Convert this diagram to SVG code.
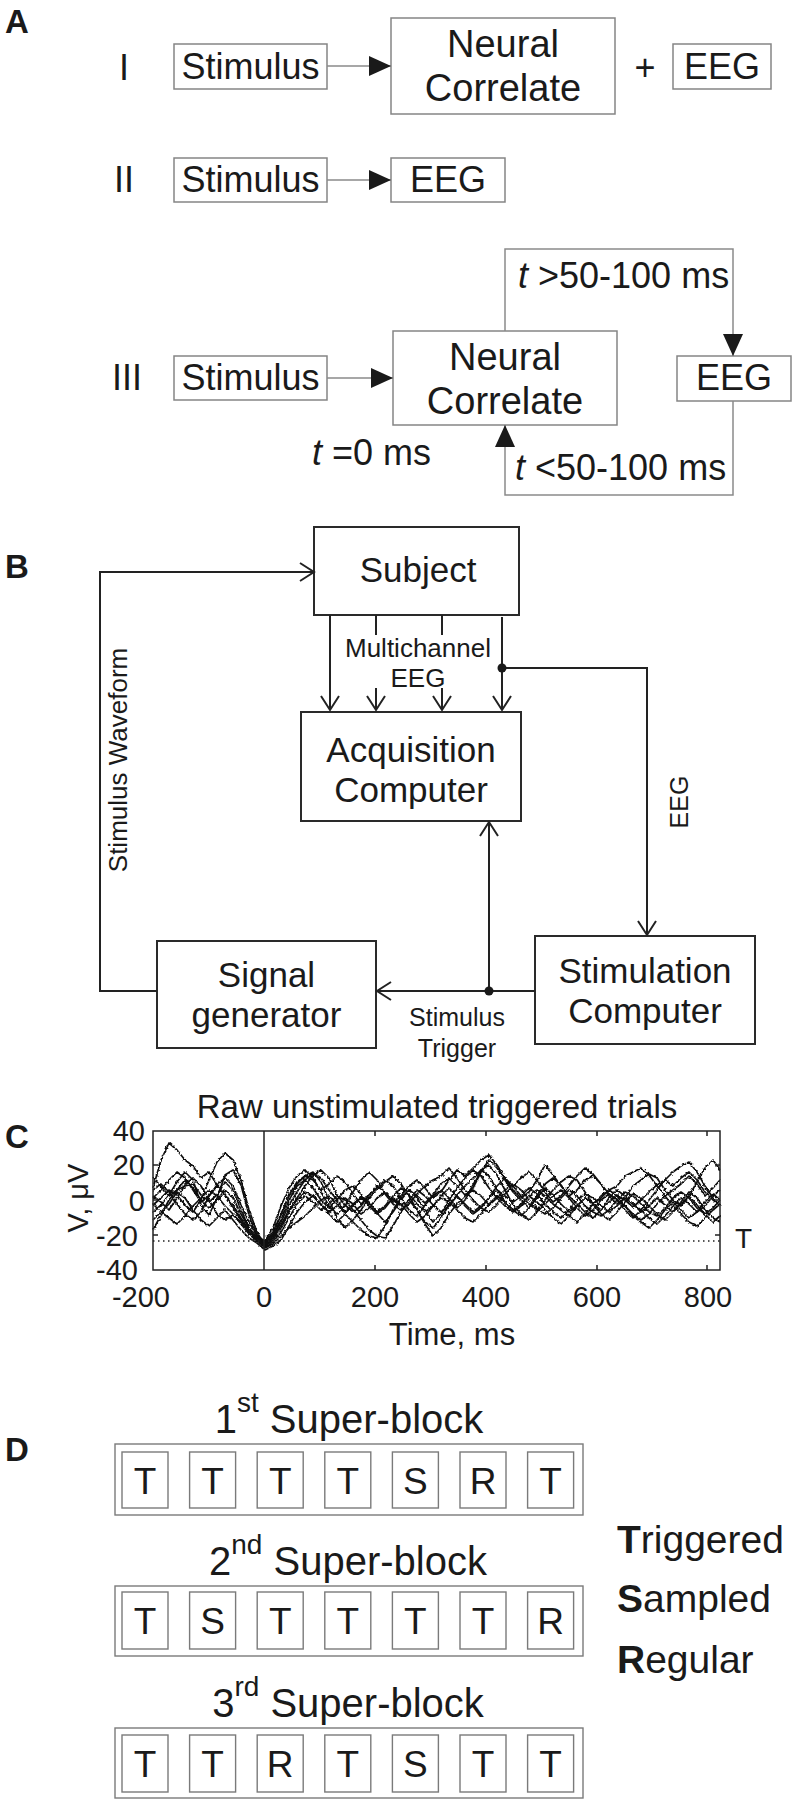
<svg xmlns="http://www.w3.org/2000/svg" width="794" height="1800" viewBox="0 0 794 1800">
<style>
text{font-family:"Liberation Sans",Arial,Helvetica,sans-serif;fill:#1a1a1a}
.lbl{font-weight:bold;font-size:33px}
.a36{font-size:36px;text-anchor:middle}
.nc{font-size:38px;text-anchor:middle}
.c{text-anchor:middle}
.boxA{fill:#fff;stroke:#858585;stroke-width:1.5}
.lineA{fill:none;stroke:#8a8a8a;stroke-width:1.5}
.boxB{fill:#fff;stroke:#2a2a2a;stroke-width:2}
.lineB{fill:none;stroke:#222;stroke-width:2}
.b35{font-size:35px;text-anchor:middle}
.boxD{fill:#fff;stroke:#7a7a7a;stroke-width:1.4}
.lt{font-size:37px;text-anchor:middle}
.tr{fill:none;stroke:#111;stroke-width:1.7;stroke-linejoin:round}
.ax{fill:none;stroke:#222;stroke-width:1.5}
.tk{font-size:29px}
</style>
<defs>
<marker id="tri" markerUnits="userSpaceOnUse" markerWidth="23" markerHeight="20" refX="22" refY="10" orient="auto" viewBox="0 0 23 20"><path d="M0,0 L22,10 L0,20 z" fill="#1a1a1a"/></marker>
<marker id="chev" markerUnits="userSpaceOnUse" markerWidth="18" markerHeight="20" refX="15" refY="10" orient="auto" viewBox="0 0 18 20" overflow="visible"><path d="M1,1 L15,10 L1,19" fill="none" stroke="#222" stroke-width="2"/></marker>
<filter id="jit" x="-5%" y="-20%" width="110%" height="140%"><feTurbulence type="fractalNoise" baseFrequency="0.4" numOctaves="1" seed="7"/><feDisplacementMap in="SourceGraphic" scale="3.5" xChannelSelector="R" yChannelSelector="G"/></filter>
</defs>
<rect width="794" height="1800" fill="#fff"/>

<!-- Panel labels -->
<text class="lbl" x="5" y="33">A</text>
<text class="lbl" x="5" y="578">B</text>
<text class="lbl" x="5" y="1148">C</text>
<text class="lbl" x="5" y="1461">D</text>

<!-- Panel A -->
<text class="a36" x="124" y="80">I</text>
<text class="a36" x="124" y="192">II</text>
<text class="a36" x="127" y="390">III</text>

<g id="a1-stimulus"><rect class="boxA" x="174" y="44" width="153" height="45"/><text class="a36" x="250.5" y="79">Stimulus</text></g>
<g id="a1-neural"><rect class="boxA" x="391" y="18" width="224" height="96"/><text class="nc" x="503" y="57">Neural</text><text class="nc" x="503" y="101">Correlate</text></g>
<text class="a36" x="645" y="80">+</text>
<g id="a1-eeg"><rect class="boxA" x="673" y="44" width="98" height="45"/><text class="a36" x="722" y="79">EEG</text></g>

<g id="a2-stimulus"><rect class="boxA" x="174" y="158" width="153" height="44"/><text class="a36" x="250.5" y="192">Stimulus</text></g>
<g id="a2-eeg"><rect class="boxA" x="391" y="158" width="114" height="44"/><text class="a36" x="448" y="192">EEG</text></g>

<g id="a3-stimulus"><rect class="boxA" x="174" y="356" width="153" height="44"/><text class="a36" x="250.5" y="390">Stimulus</text></g>
<g id="a3-neural"><rect class="boxA" x="393" y="331" width="224" height="94"/><text class="nc" x="505" y="370">Neural</text><text class="nc" x="505" y="414">Correlate</text></g>
<g id="a3-eeg"><rect class="boxA" x="677" y="356" width="114" height="45"/><text class="a36" x="734" y="390">EEG</text></g>

<text font-size="36" x="518" y="288"><tspan font-style="italic">t</tspan> &gt;50-100 ms</text>
<text font-size="36" x="312" y="465"><tspan font-style="italic">t</tspan> =0 ms</text>
<text font-size="36" x="515" y="480"><tspan font-style="italic">t</tspan> &lt;50-100 ms</text>

<!-- Panel B nodes -->
<g id="b-subject"><rect class="boxB" x="314" y="527" width="205" height="88"/><text class="b35" x="418" y="582">Subject</text></g>
<g id="b-acquisition"><rect class="boxB" x="301" y="712" width="220" height="109"/><text class="b35" x="411" y="762">Acquisition</text><text class="b35" x="411" y="802">Computer</text></g>
<g id="b-signal"><rect class="boxB" x="157" y="941" width="219" height="107"/><text class="b35" x="266.5" y="987">Signal</text><text class="b35" x="266.5" y="1027">generator</text></g>
<g id="b-stimulation"><rect class="boxB" x="535" y="936" width="220" height="108"/><text class="b35" x="645" y="983">Stimulation</text><text class="b35" x="645" y="1023">Computer</text></g>

<text class="c" font-size="26" x="418" y="657">Multichannel</text>
<text class="c" font-size="26" x="418" y="687">EEG</text>
<text class="c" font-size="25" x="457" y="1026">Stimulus</text>
<text class="c" font-size="25" x="457" y="1057">Trigger</text>
<text class="c" font-size="26" transform="translate(127,760) rotate(-90)">Stimulus Waveform</text>
<text class="c" font-size="25" transform="translate(688,802) rotate(-90)">EEG</text>

<!-- Connectors -->
<g id="connectors">
<path class="lineA" d="M327,66 H391" marker-end="url(#tri)"/>
<path class="lineA" d="M327,180 H391" marker-end="url(#tri)"/>
<path class="lineA" d="M327,378 H393" marker-end="url(#tri)"/>
<path class="lineA" d="M505,331 V249 H733 V356" marker-end="url(#tri)"/>
<path class="lineA" d="M733,401 V495 H505 V425" marker-end="url(#tri)"/>

<path class="lineB" d="M157,991 H100 V572 H314" marker-end="url(#chev)"/>
<path class="lineB" d="M330,615 V710" marker-end="url(#chev)"/>
<path class="lineB" d="M376,615 V635"/>
<path class="lineB" d="M376,688 V710" marker-end="url(#chev)"/>
<path class="lineB" d="M442,615 V635"/>
<path class="lineB" d="M442,688 V710" marker-end="url(#chev)"/>
<path class="lineB" d="M502,617 V710" marker-end="url(#chev)"/>
<path class="lineB" d="M502,668 H647 V935" marker-end="url(#chev)"/>
<path class="lineB" d="M535,991 H377" marker-end="url(#chev)"/>
<path class="lineB" d="M489,991 V822" marker-end="url(#chev)"/>
<circle cx="502" cy="668" r="4.5" fill="#1a1a1a"/>
<circle cx="489" cy="991" r="4.5" fill="#1a1a1a"/>
</g>

<!-- Panel C plot -->
<g id="panelC-plot">
<text class="c" font-size="33" x="437" y="1118">Raw unstimulated triggered trials</text>
<g filter="url(#jit)">
<polyline class="tr" points="153,1188 161,1160 169,1143 177,1150 185,1160 193,1166 201,1178 209,1172 217,1185 225,1196 233,1205 241,1218 249,1230 257,1238 265,1244 273,1236 281,1222 289,1205 297,1192 305,1180 313,1173 321,1178 329,1190 337,1200 345,1212 353,1206 361,1196 369,1202 377,1213 385,1222 393,1212 401,1200 409,1190 417,1196 425,1203 433,1195 441,1184 449,1178 457,1186 465,1195 473,1188 481,1172 489,1160 497,1168 505,1180 513,1192 521,1200 529,1208 537,1198 545,1188 553,1195 561,1204 569,1212 577,1206 585,1198 593,1204 601,1210 609,1202 617,1195 625,1200 633,1207 641,1200 649,1192 657,1185 665,1180 673,1186 681,1178 689,1172 697,1180 705,1192 713,1200 720,1205"/>
<polyline class="tr" points="153,1205 161,1198 169,1190 177,1195 185,1205 193,1212 201,1200 209,1180 217,1162 225,1153 233,1160 241,1180 249,1210 257,1232 265,1246 273,1240 281,1228 289,1212 297,1198 305,1186 313,1175 321,1170 329,1178 337,1195 345,1205 353,1212 361,1206 369,1195 377,1188 385,1180 393,1186 401,1198 409,1210 417,1216 425,1205 433,1196 441,1190 449,1198 457,1208 465,1200 473,1185 481,1170 489,1176 497,1190 505,1202 513,1210 521,1216 529,1208 537,1196 545,1184 553,1178 561,1185 569,1196 577,1204 585,1212 593,1218 601,1210 609,1198 617,1190 625,1196 633,1204 641,1212 649,1206 657,1198 665,1205 673,1212 681,1204 689,1196 697,1205 705,1214 713,1208 720,1200"/>
<polyline class="tr" points="153,1212 161,1205 169,1195 177,1182 185,1172 193,1180 201,1205 209,1215 217,1198 225,1175 233,1170 241,1185 249,1215 257,1235 265,1242 273,1232 281,1214 289,1196 297,1184 305,1176 313,1172 321,1182 329,1200 337,1218 345,1228 353,1220 361,1210 369,1198 377,1190 385,1182 393,1176 401,1184 409,1196 417,1210 425,1222 433,1228 441,1218 449,1205 457,1195 465,1186 473,1178 481,1170 489,1165 497,1175 505,1190 513,1205 521,1214 529,1220 537,1212 545,1200 553,1190 561,1182 569,1176 577,1180 585,1192 593,1204 601,1214 609,1220 617,1212 625,1202 633,1194 641,1198 649,1206 657,1214 665,1220 673,1212 681,1202 689,1192 697,1198 705,1210 713,1218 720,1222"/>
<polyline class="tr" points="153,1230 161,1215 169,1200 177,1190 185,1186 193,1184 201,1195 209,1202 217,1195 225,1182 233,1190 241,1210 249,1228 257,1240 265,1248 273,1244 281,1236 289,1228 297,1222 305,1216 313,1208 321,1200 329,1196 337,1204 345,1214 353,1222 361,1230 369,1236 377,1238 385,1226 393,1210 401,1198 409,1190 417,1198 425,1210 433,1222 441,1214 449,1200 457,1188 465,1178 473,1170 481,1176 489,1188 497,1198 505,1206 513,1212 521,1206 529,1196 537,1190 545,1196 553,1204 561,1210 569,1216 577,1222 585,1214 593,1204 601,1196 609,1190 617,1186 625,1176 633,1172 641,1168 649,1175 657,1186 665,1196 673,1206 681,1214 689,1222 697,1226 705,1218 713,1210 720,1204"/>
<polyline class="tr" points="153,1196 161,1202 169,1210 177,1198 185,1185 193,1178 201,1186 209,1200 217,1214 225,1220 233,1215 241,1222 249,1232 257,1240 265,1245 273,1238 281,1225 289,1210 297,1200 305,1192 313,1196 321,1205 329,1212 337,1206 345,1198 353,1204 361,1214 369,1208 377,1198 385,1192 393,1200 401,1206 409,1200 417,1190 425,1196 433,1205 441,1212 449,1206 457,1196 465,1204 473,1212 481,1206 489,1198 497,1190 505,1196 513,1202 521,1196 529,1188 537,1194 545,1204 553,1212 561,1218 569,1210 577,1200 585,1194 593,1198 601,1206 609,1212 617,1206 625,1198 633,1204 641,1210 649,1218 657,1224 665,1216 673,1206 681,1198 689,1204 697,1212 705,1206 713,1196 720,1190"/>
<polyline class="tr" points="153,1190 161,1184 169,1192 177,1204 185,1214 193,1220 201,1212 209,1196 217,1185 225,1178 233,1186 241,1205 249,1222 257,1236 265,1243 273,1234 281,1215 289,1195 297,1182 305,1176 313,1180 321,1190 329,1184 337,1176 345,1182 353,1194 361,1204 369,1196 377,1186 385,1192 393,1202 401,1196 409,1186 417,1180 425,1188 433,1198 441,1192 449,1180 457,1170 465,1176 473,1168 481,1160 489,1155 497,1165 505,1178 513,1190 521,1198 529,1192 537,1180 545,1165 553,1175 561,1186 569,1196 577,1190 585,1180 593,1176 601,1184 609,1196 617,1204 625,1198 633,1186 641,1180 649,1174 657,1178 665,1190 673,1200 681,1206 689,1196 697,1182 705,1168 713,1160 720,1170"/>
<polyline class="tr" points="153,1220 161,1212 169,1218 177,1224 185,1216 193,1206 201,1198 209,1190 217,1196 225,1206 233,1214 241,1224 249,1234 257,1241 265,1247 273,1242 281,1232 289,1218 297,1204 305,1196 313,1202 321,1210 329,1204 337,1196 345,1200 353,1210 361,1220 369,1230 377,1236 385,1238 393,1226 401,1212 409,1200 417,1210 425,1224 433,1236 441,1228 449,1214 457,1204 465,1196 473,1190 481,1196 489,1205 497,1198 505,1190 513,1184 521,1190 529,1200 537,1208 545,1214 553,1208 561,1198 569,1190 577,1196 585,1206 593,1212 601,1216 609,1210 617,1200 625,1192 633,1196 641,1204 649,1212 657,1216 665,1208 673,1198 681,1192 689,1198 697,1208 705,1214 713,1222 720,1216"/>
<polyline class="tr" points="153,1178 161,1186 169,1196 177,1190 185,1180 193,1188 201,1200 209,1208 217,1200 225,1190 233,1198 241,1214 249,1228 257,1237 265,1241 273,1228 281,1206 289,1188 297,1176 305,1170 313,1178 321,1192 329,1206 337,1214 345,1206 353,1192 361,1180 369,1172 377,1180 385,1194 393,1204 401,1210 409,1204 417,1194 425,1186 433,1180 441,1176 449,1168 457,1178 465,1190 473,1200 481,1208 489,1212 497,1204 505,1194 513,1186 521,1178 529,1172 537,1180 545,1192 553,1202 561,1196 569,1186 577,1176 585,1168 593,1174 601,1184 609,1194 617,1200 625,1206 633,1214 641,1220 649,1214 657,1204 665,1196 673,1190 681,1184 689,1176 697,1184 705,1196 713,1188 720,1180"/>
<polyline class="tr" points="153,1204 161,1212 169,1204 177,1192 185,1198 193,1210 201,1220 209,1226 217,1218 225,1210 233,1220 241,1230 249,1238 257,1243 265,1250 273,1246 281,1240 289,1226 297,1212 305,1202 313,1196 321,1204 329,1214 337,1222 345,1214 353,1204 361,1198 369,1204 377,1212 385,1206 393,1196 401,1188 409,1194 417,1204 425,1212 433,1206 441,1198 449,1202 457,1210 465,1218 473,1222 481,1214 489,1204 497,1196 505,1202 513,1210 521,1204 529,1196 537,1202 545,1210 553,1218 561,1224 569,1216 577,1206 585,1198 593,1204 601,1198 609,1190 617,1196 625,1206 633,1216 641,1222 649,1228 657,1220 665,1210 673,1202 681,1210 689,1218 697,1212 705,1202 713,1194 720,1200"/>
<polyline class="tr" points="153,1198 161,1190 169,1180 177,1172 185,1178 193,1190 201,1202 209,1196 217,1186 225,1194 233,1208 241,1220 249,1230 257,1238 265,1244 273,1236 281,1220 289,1200 297,1186 305,1180 313,1188 321,1200 329,1208 337,1200 345,1190 353,1186 361,1194 369,1206 377,1214 385,1208 393,1198 401,1204 409,1214 417,1222 425,1216 433,1206 441,1196 449,1188 457,1196 465,1206 473,1214 481,1208 489,1198 497,1186 505,1178 513,1186 521,1196 529,1204 537,1210 545,1204 553,1196 561,1190 569,1198 577,1208 585,1216 593,1210 601,1200 609,1194 617,1200 625,1210 633,1218 641,1210 649,1200 657,1190 665,1180 673,1172 681,1166 689,1162 697,1172 705,1186 713,1198 720,1206"/>
</g>
<rect class="ax" x="153" y="1131" width="567" height="139"/>
<path class="ax" d="M264,1131 V1270"/>
<path class="ax" d="M375,1131 v5 M486,1131 v5 M597,1131 v5 M707,1131 v5 M375,1270 v-5 M486,1270 v-5 M597,1270 v-5 M707,1270 v-5 M153,1165 h5 M153,1200 h5 M153,1235 h5 M720,1165 h-5 M720,1200 h-5 M720,1235 h-5"/>
<path d="M153,1241 H720" fill="none" stroke="#222" stroke-width="1.5" stroke-dasharray="1.5,3.5"/>
<text class="tk" x="145" y="1141" text-anchor="end">40</text>
<text class="tk" x="145" y="1175" text-anchor="end">20</text>
<text class="tk" x="145" y="1211" text-anchor="end">0</text>
<text class="tk" x="138" y="1246" text-anchor="end">-20</text>
<text class="tk" x="138" y="1280" text-anchor="end">-40</text>
<text class="tk" x="170" y="1307" text-anchor="end">-200</text>
<text class="tk c" x="264" y="1307">0</text>
<text class="tk c" x="375" y="1307">200</text>
<text class="tk c" x="486" y="1307">400</text>
<text class="tk c" x="597" y="1307">600</text>
<text class="tk c" x="708" y="1307">800</text>
<text class="c" font-size="31" x="452" y="1345">Time, ms</text>
<text class="c" font-size="29" transform="translate(88,1198) rotate(-90)">V, μV</text>
<text font-size="28" x="735" y="1248">T</text>
</g>

<!-- Panel D -->
<text class="c" x="349" y="1433" font-size="40">1<tspan font-size="28" dy="-21">st</tspan><tspan dy="21"> Super-block</tspan></text>
<g id="d-block1">
<rect class="boxD" x="115" y="1444" width="468" height="71"/>
<rect class="boxD" x="122" y="1452" width="46" height="56"/><text class="lt" x="145" y="1494">T</text>
<rect class="boxD" x="189.6" y="1452" width="46" height="56"/><text class="lt" x="212.6" y="1494">T</text>
<rect class="boxD" x="257.2" y="1452" width="46" height="56"/><text class="lt" x="280.2" y="1494">T</text>
<rect class="boxD" x="324.8" y="1452" width="46" height="56"/><text class="lt" x="347.8" y="1494">T</text>
<rect class="boxD" x="392.4" y="1452" width="46" height="56"/><text class="lt" x="415.4" y="1494">S</text>
<rect class="boxD" x="460" y="1452" width="46" height="56"/><text class="lt" x="483" y="1494">R</text>
<rect class="boxD" x="527.6" y="1452" width="46" height="56"/><text class="lt" x="550.6" y="1494">T</text>
</g>
<text class="c" x="348" y="1575" font-size="40">2<tspan font-size="28" dy="-21">nd</tspan><tspan dy="21"> Super-block</tspan></text>
<g id="d-block2">
<rect class="boxD" x="115" y="1586" width="468" height="70"/>
<rect class="boxD" x="122" y="1592" width="46" height="57"/><text class="lt" x="145" y="1634">T</text>
<rect class="boxD" x="189.6" y="1592" width="46" height="57"/><text class="lt" x="212.6" y="1634">S</text>
<rect class="boxD" x="257.2" y="1592" width="46" height="57"/><text class="lt" x="280.2" y="1634">T</text>
<rect class="boxD" x="324.8" y="1592" width="46" height="57"/><text class="lt" x="347.8" y="1634">T</text>
<rect class="boxD" x="392.4" y="1592" width="46" height="57"/><text class="lt" x="415.4" y="1634">T</text>
<rect class="boxD" x="460" y="1592" width="46" height="57"/><text class="lt" x="483" y="1634">T</text>
<rect class="boxD" x="527.6" y="1592" width="46" height="57"/><text class="lt" x="550.6" y="1634">R</text>
</g>
<text class="c" x="348" y="1717" font-size="40">3<tspan font-size="28" dy="-21">rd</tspan><tspan dy="21"> Super-block</tspan></text>
<g id="d-block3">
<rect class="boxD" x="115" y="1728" width="468" height="70"/>
<rect class="boxD" x="122" y="1735" width="46" height="57"/><text class="lt" x="145" y="1777">T</text>
<rect class="boxD" x="189.6" y="1735" width="46" height="57"/><text class="lt" x="212.6" y="1777">T</text>
<rect class="boxD" x="257.2" y="1735" width="46" height="57"/><text class="lt" x="280.2" y="1777">R</text>
<rect class="boxD" x="324.8" y="1735" width="46" height="57"/><text class="lt" x="347.8" y="1777">T</text>
<rect class="boxD" x="392.4" y="1735" width="46" height="57"/><text class="lt" x="415.4" y="1777">S</text>
<rect class="boxD" x="460" y="1735" width="46" height="57"/><text class="lt" x="483" y="1777">T</text>
<rect class="boxD" x="527.6" y="1735" width="46" height="57"/><text class="lt" x="550.6" y="1777">T</text>
</g>
<g id="d-legend">
<text x="617" y="1553" font-size="39"><tspan font-weight="bold">T</tspan>riggered</text>
<text x="617" y="1612" font-size="39"><tspan font-weight="bold">S</tspan>ampled</text>
<text x="617" y="1673" font-size="39"><tspan font-weight="bold">R</tspan>egular</text>
</g>
</svg>
